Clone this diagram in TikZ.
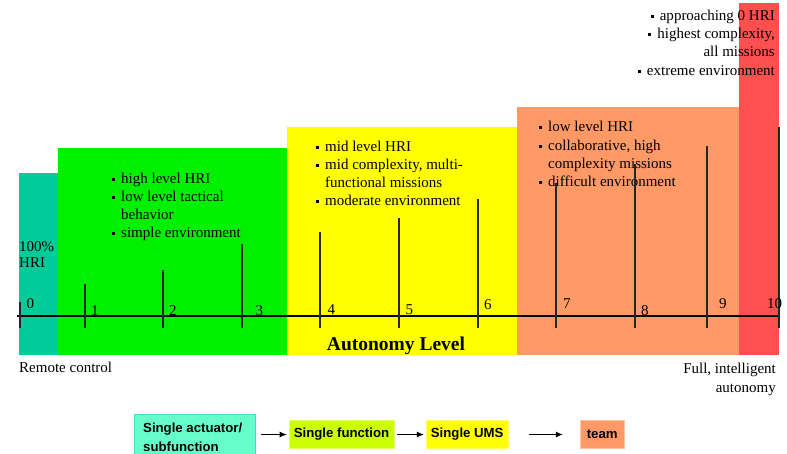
\documentclass[tikz,border=0pt]{standalone}
\usepackage{fontspec}
\setmainfont{Liberation Serif}
\newfontfamily\boxfont{Liberation Sans}
\usetikzlibrary{arrows.meta}
\definecolor{cteal}{HTML}{00CC99}
\definecolor{cgreen}{HTML}{00F000}
\definecolor{cyellow}{HTML}{FFFF00}
\definecolor{corange}{HTML}{FF9966}
\definecolor{cred}{HTML}{FF5050}
\definecolor{bteal}{HTML}{66FFCC}
\definecolor{blime}{HTML}{CCFF00}
\newcommand{\bul}{\rule[1.9pt]{3pt}{3pt}\hspace{6pt}}
\begin{document}
\begin{tikzpicture}[x=1pt,y=-1pt,
  txt/.style={font=\fontsize{15}{18}\selectfont, inner sep=0pt, anchor=base west},
  rtxt/.style={txt, anchor=base east},
  num/.style={txt},
  tick/.style={draw=black!85, line width=1.2pt},
  axis/.style={draw=black, line width=1.2pt},
  bfont/.style={font=\boxfont\bfseries\fontsize{13.2}{15}\selectfont},
  bx/.style={inner sep=0pt, bfont, line width=0.7pt},
  arr/.style={draw=black, line width=1pt, -{Latex[length=7pt,width=6pt]}}]
\useasboundingbox (0,0) rectangle (787,453);
\clip (0,0) rectangle (787,453);
% regions
\fill[cteal] (19,173) rectangle (58,355);
\fill[cgreen] (58,148) rectangle (287,355);
\fill[cyellow] (287,127) rectangle (517,355);
\fill[corange] (517,107) rectangle (739,355);
\fill[cred] (739,3) rectangle (779,355);
% bullet texts
\node[txt] (g1) at (112,183) {\bul high level HRI};
\node[txt] (g2) at (112,201) {\bul low level tactical};
\node[txt] (g3) at (121,219) {behavior};
\node[txt] (g4) at (112,237) {\bul simple environment};
\node[txt] (y1) at (316,151) {\bul mid level HRI};
\node[txt] (y2) at (316,169) {\bul mid complexity, multi-};
\node[txt] (y3) at (325,187) {functional missions};
\node[txt] (y4) at (316,205) {\bul moderate environment};
\node[txt] (o1) at (539,131) {\bul low level HRI};
\node[txt] (o2) at (539,150) {\bul collaborative, high};
\node[txt] (o3) at (548,168) {complexity missions};
\node[txt] (o4) at (539,186) {\bul difficult environment};
\node[rtxt] (r1) at (775,20) {\bul approaching 0 HRI};
\node[rtxt] (r2) at (775,38) {\bul highest complexity,};
\node[rtxt] (r3) at (775,56) {all missions};
\node[rtxt] (r4) at (775,75) {\bul extreme environment};
\node[txt] (h1) at (19,251) {100\%};
\node[txt] (h2) at (19,267) {HRI};
% axis and ticks
\draw[axis] (17,316) -- (779,316);
\draw[tick] (20,302) -- (20,328);
\draw[tick] (85,284) -- (85,328);
\draw[tick] (163,270) -- (163,328);
\draw[tick] (242,244) -- (242,328);
\draw[tick] (320,232) -- (320,328);
\draw[tick] (399,218) -- (399,328);
\draw[tick] (478,199) -- (478,328);
\draw[tick] (556,183) -- (556,328);
\draw[tick] (635,164) -- (635,328);
\draw[tick] (707,146) -- (707,328);
\draw[tick] (779,127) -- (779,328);
% numbers
\node[num] (n0) at (26.5,308) {0};
\node[num] (n1) at (91,315) {1};
\node[num] (n2) at (169,315) {2};
\node[num] (n3) at (255.5,315) {3};
\node[num] (n4) at (327.5,314) {4};
\node[num] (n5) at (405.5,314) {5};
\node[num] (n6) at (484,309) {6};
\node[num] (n7) at (563,308) {7};
\node[num] (n8) at (641,315) {8};
\node[num] (n9) at (719,308) {9};
\node[num] (n10) at (767,308) {10};
% axis captions
\node[inner sep=0pt, anchor=base, font=\bfseries\fontsize{19.5}{21}\selectfont] (al) at (396,350.5) {Autonomy Level};
\node[txt] (rc) at (19,372) {Remote control};
\node[rtxt] (fa1) at (776,373) {Full, intelligent};
\node[rtxt] (fa2) at (776,392) {autonomy};
% bottom boxes
\node[bx, fill=bteal, draw=cteal!70, minimum width=121pt, minimum height=46pt, anchor=north west] (b1) at (134,414) {};
\node[inner sep=0pt, anchor=base west, bfont] (b1t1) at (143,432) {Single actuator/};
\node[inner sep=0pt, anchor=base west, bfont] (b1t2) at (143,451.5) {subfunction};
\node[bx, fill=blime, draw=blime!60, minimum width=105pt, minimum height=27.5pt] (b2) at (341.5,434.5) {Single function};
\node[bx, fill=cyellow, draw=cyellow!60, minimum width=82pt, minimum height=27.5pt] (b3) at (467.2,434.5) {Single UMS};
\node[bx, fill=corange, draw=corange!60, minimum width=44pt, minimum height=27.5pt] (b4) at (602.2,434.5) {team};
\draw[arr, shorten <=5pt, shorten >=2pt] (b1.east |- b2.west) -- (b2.west);
\draw[arr, shorten <=3pt, shorten >=2pt] (b2.east) -- (b3.west);
\draw[arr, shorten <=20pt, shorten >=17pt] (b3.east) -- (b4.west);
\end{tikzpicture}
\end{document}
